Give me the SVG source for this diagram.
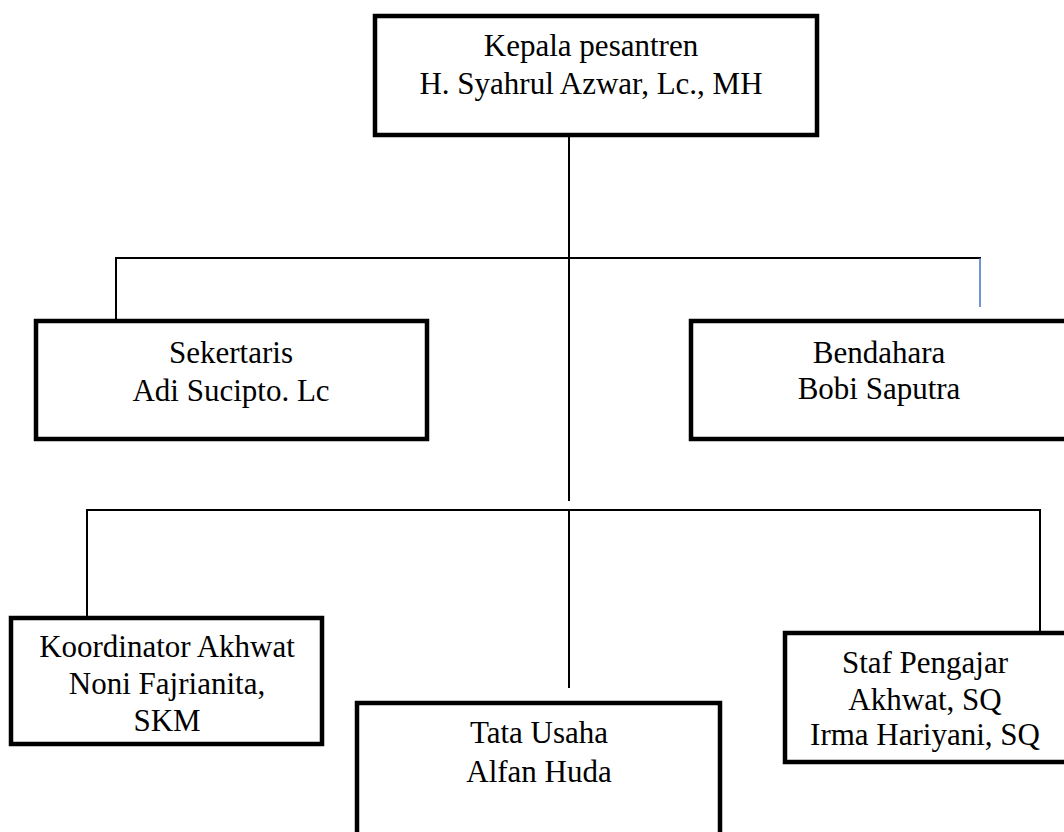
<svg xmlns="http://www.w3.org/2000/svg" width="1064" height="832" viewBox="0 0 1064 832">
<style>
.box{fill:#fff;stroke:#000;stroke-width:4.5}
.ln{stroke:#000;stroke-width:2;fill:none}
.blue{stroke:#4472C4;stroke-width:1.5;fill:none}
text{font-family:"Liberation Serif","Times New Roman",serif;font-size:31px;fill:#000;text-anchor:middle}
</style>
<rect width="1064" height="832" fill="#fff"/>
<g id="connectors">
<line class="ln" x1="569" y1="137" x2="569" y2="501"/>
<polyline class="ln" points="116,319 116,258 981,258"/>
<line class="blue" x1="980" y1="258" x2="980" y2="307"/>
<polyline class="ln" points="87,616 87,510 1040,510 1040,631"/>
<line class="ln" x1="569" y1="510" x2="569" y2="688"/>
</g>
<g id="kepala">
<rect class="box" x="375" y="16" width="442" height="119"/>
<text x="591" y="56">Kepala pesantren</text>
<text x="591" y="94">H. Syahrul Azwar, Lc., MH</text>
</g>
<g id="sekertaris">
<rect class="box" x="36" y="321" width="391" height="118"/>
<text x="231" y="363">Sekertaris</text>
<text x="231" y="401">Adi Sucipto. Lc</text>
</g>
<g id="bendahara">
<rect class="box" x="691" y="321" width="390" height="118"/>
<text x="879" y="363">Bendahara</text>
<text x="879" y="399">Bobi Saputra</text>
</g>
<g id="koordinator">
<rect class="box" x="11" y="618" width="311" height="126"/>
<text x="167" y="657">Koordinator Akhwat</text>
<text x="167" y="694">Noni Fajrianita,</text>
<text x="167" y="731">SKM</text>
</g>
<g id="tata-usaha">
<rect class="box" x="357" y="703" width="363" height="150"/>
<text x="539" y="743">Tata Usaha</text>
<text x="539" y="782">Alfan Huda</text>
</g>
<g id="staf">
<rect class="box" x="785" y="633" width="300" height="129"/>
<text x="925" y="673">Staf Pengajar</text>
<text x="925" y="710">Akhwat, SQ</text>
<text x="925" y="745">Irma Hariyani, SQ</text>
</g>
</svg>
